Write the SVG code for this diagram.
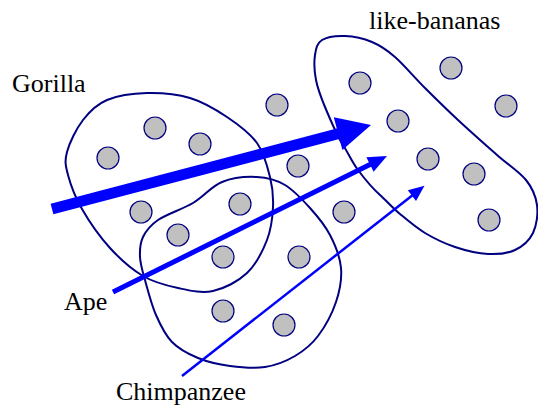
<svg xmlns="http://www.w3.org/2000/svg" width="538" height="409" viewBox="0 0 538 409">
<style>
.blob{fill:none;stroke:#000080;stroke-width:2}
.dot{fill:#C0C0C0;stroke:#000080;stroke-width:1.2}
.lbl{font-family:"Liberation Serif","Times New Roman",serif;font-size:26px;fill:#000}
.arr{stroke:#0000FF;fill:none;stroke-linecap:butt}
.head{fill:#0000FF;stroke:none}
</style>
<rect width="538" height="409" fill="#fff"/>
<g id="gorilla">
<path class="blob" d="M147,93 C160.8,92.7 176.7,94 190,98 C203.3,102 215.8,109.5 227,117 C238.2,124.5 249.8,133 257,143 C264.2,153 267.3,166.3 270,177 C272.7,187.7 273.5,196.5 273,207 C272.5,217.5 271.3,229 267,240 C262.7,251 256,264.5 247,273 C238,281.5 224.5,288.5 213,291 C201.5,293.5 189.7,290.5 178,288 C166.3,285.5 154.3,282.7 143,276 C131.7,269.3 120.2,259.2 110,248 C99.8,236.8 89,221.2 82,209 C75,196.8 70.5,184.5 68,175 C65.5,165.5 64.5,161.2 67,152 C69.5,142.8 76.3,128.7 83,120 C89.7,111.3 96.3,104.5 107,100 C117.7,95.5 133.2,93.3 147,93 Z"/>
<text class="lbl" x="12" y="92">Gorilla</text>
</g>
<g id="chimpanzee-set">
<path class="blob" d="M143,237 C146,230.8 149.7,225.7 158,220 C166.3,214.3 182.3,209.3 193,203 C203.7,196.7 211.3,186.3 222,182 C232.7,177.7 246.5,176.5 257,177 C267.5,177.5 276.2,179.8 285,185 C293.8,190.2 302.5,199.7 310,208 C317.5,216.3 324.8,225 330,235 C335.2,245 340,256.8 341,268 C342,279.2 339.8,290.7 336,302 C332.2,313.3 324.8,327 318,336 C311.2,345 303.8,350.8 295,356 C286.2,361.2 275.8,365.3 265,367 C254.2,368.7 241.2,367.5 230,366 C218.8,364.5 207.7,362 198,358 C188.3,354 179,349.2 172,342 C165,334.8 160.5,325.3 156,315 C151.5,304.7 147.7,289.7 145,280 C142.3,270.3 140.3,264.2 140,257 C139.7,249.8 140,243.2 143,237 Z"/>
</g>
<g id="like-bananas">
<path class="blob" d="M322,40 C327,36.8 336.7,35.7 345,36 C353.3,36.3 363.7,38.5 372,42 C380.3,45.5 386.2,49.3 395,57 C403.8,64.7 414.5,77.5 425,88 C435.5,98.5 446,108.8 458,120 C470,131.2 485.7,145 497,155 C508.3,165 519.3,171.7 526,180 C532.7,188.3 535.8,196.2 537,205 C538.2,213.8 536.7,225.5 533,233 C529.3,240.5 522.5,246.5 515,250 C507.5,253.5 498,254.5 488,254 C478,253.5 465.5,250.5 455,247 C444.5,243.5 434.2,238.5 425,233 C415.8,227.5 407.5,220.3 400,214 C392.5,207.7 387,201.3 380,195 C373,188.7 364.2,178.3 358,170 C351.8,161.7 348.5,153.5 343,145 C337.5,136.5 329.5,117.8 325,107 C320.5,96.2 317.7,88.7 316,80 C314.3,71.3 314,61.7 315,55 C316,48.3 317,43.2 322,40 Z"/>
<text class="lbl" x="369" y="29">like-bananas</text>
</g>
<g id="elements">
<circle class="dot" cx="108" cy="158" r="11"/>
<circle class="dot" cx="155" cy="128" r="11"/>
<circle class="dot" cx="200" cy="144" r="11"/>
<circle class="dot" cx="277" cy="105" r="11"/>
<circle class="dot" cx="298" cy="166" r="11"/>
<circle class="dot" cx="141" cy="212" r="11"/>
<circle class="dot" cx="240" cy="204" r="11"/>
<circle class="dot" cx="178" cy="235" r="11"/>
<circle class="dot" cx="223" cy="257" r="11"/>
<circle class="dot" cx="299" cy="257" r="11"/>
<circle class="dot" cx="344" cy="212" r="11"/>
<circle class="dot" cx="223" cy="311" r="11"/>
<circle class="dot" cx="284" cy="325" r="11"/>
<circle class="dot" cx="360" cy="83" r="11"/>
<circle class="dot" cx="451" cy="68" r="11"/>
<circle class="dot" cx="506" cy="106" r="11"/>
<circle class="dot" cx="398" cy="121" r="11"/>
<circle class="dot" cx="428" cy="159" r="11"/>
<circle class="dot" cx="474" cy="174" r="11"/>
<circle class="dot" cx="489" cy="220" r="11"/>
</g>
<g id="connectors">
<line class="arr" x1="52" y1="209" x2="339" y2="133.5" stroke-width="11"/>
<polygon class="head" points="371,125 333.8,117.3 342.4,150.1"/>
<line class="arr" x1="113" y1="292" x2="371" y2="164" stroke-width="5"/>
<polygon class="head" points="387,156 366.4,157.3 373.6,171.7"/>
<line class="arr" x1="182" y1="376" x2="412.5" y2="195.2" stroke-width="2.5"/>
<polygon class="head" points="424.5,185.7 407.8,190.3 416,200.9"/>
<text class="lbl" x="64" y="310">Ape</text>
<text class="lbl" x="116" y="400">Chimpanzee</text>
</g>
</svg>
